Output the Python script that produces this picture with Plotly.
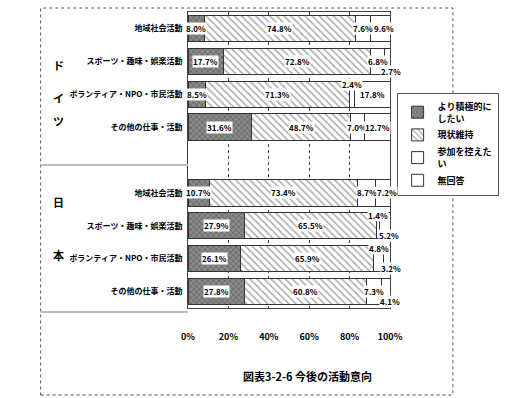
import plotly.graph_objects as go

# ---------------- data ----------------
groups = ["ドイツ", "日本"]
categories = ["地域社会活動", "スポーツ・趣味・娯楽活動", "ボランティア・NPO・市民活動", "その他の仕事・活動"]
series_names = ["より積極的に<br>したい", "現状維持", "参加を控えた<br>い", "無回答"]

de_more = [8.0, 17.7, 8.5, 31.6]
de_keep = [74.8, 72.8, 71.3, 48.7]
de_less = [7.6, 6.8, 2.4, 7.0]
de_na = [9.6, 2.7, 17.8, 12.7]

jp_more = [10.7, 27.9, 26.1, 27.8]
jp_keep = [73.4, 65.5, 65.9, 60.8]
jp_less = [8.7, 1.4, 4.8, 7.3]
jp_na = [7.2, 5.2, 3.2, 4.1]

x_ticks = [0, 20, 40, 60, 80, 100]
x_ticklabels = ["0%", "20%", "40%", "60%", "80%", "100%"]
title_text = "図表3-2-6 今後の活動意向"

# ---------------- layout helpers ----------------
W, H = 511, 398
L, R, T, B = 188, 432, 12, 308


def px(xp):
    return (xp - L) / (R - L)


def py(yp):
    return (B - yp) / (B - T)


FONT = "Noto Sans CJK JP"

n = len(categories)
ypos = list(range(n)) + [i + n + 1 for i in range(n)]
series = [de_more + jp_more, de_keep + jp_keep, de_less + jp_less, de_na + jp_na]

styles = [
    dict(color="#7a7a7a", pattern=dict(shape="x", fgcolor="#3a3a3a", bgcolor="#8a8a8a", size=4, solidity=0.35)),
    dict(color="white", pattern=dict(shape="\\", fgcolor="#555555", bgcolor="white", size=5, solidity=0.3)),
    dict(color="white"),
    dict(color="white"),
]

fig = go.Figure()
for s, name, st in zip(series, series_names, styles):
    fig.add_trace(go.Bar(
        x=s, y=ypos, orientation="h", name=name,
        marker=dict(line=dict(color="#333333", width=1), **st),
        width=0.8, hoverinfo="skip",
    ))

# value labels
annots = []
for j in range(len(ypos)):
    cum = 0
    for k, s in enumerate(series):
        v = s[j]
        c = cum + v / 2
        yshift = 0
        xshift = 0
        if v < 6:
            yshift = 10 if k == 2 else -10
            xshift = 4 if k == 3 else 0
        if k == 3 and v > 6 and v < 10:
            xshift = 4
        annots.append(dict(
            x=c, y=ypos[j], xref="x", yref="y", text=f"{v:.1f}%",
            showarrow=False, xshift=xshift, yshift=yshift,
            font=dict(family=FONT, size=8, color="black", weight="bold"),
            bgcolor="white", borderpad=0,
        ))
        cum += v

# group labels
for i, ch in enumerate(groups[0]):
    annots.append(dict(x=px(22), y=py(55 + i * 33), xref="paper", yref="paper", text=ch,
                       showarrow=False, font=dict(family=FONT, size=11, color="black", weight="bold")))
for i, ch in enumerate(groups[1]):
    annots.append(dict(x=px(22), y=py(212 + i * 53), xref="paper", yref="paper", text=ch,
                       showarrow=False, font=dict(family=FONT, size=11, color="black", weight="bold")))

annots.append(dict(x=px(252), y=py(386), xref="paper", yref="paper", text=title_text,
                   showarrow=False, font=dict(family=FONT, size=11, color="black", weight="bold")))

shapes = [
    dict(type="rect", xref="paper", yref="paper", x0=px(10), x1=px(508), y0=py(395), y1=py(8),
         line=dict(color="#555555", width=1, dash="dot")),
    dict(type="line", xref="paper", yref="paper", x0=px(10), x1=px(188), y0=py(165), y1=py(165),
         line=dict(color="#bbbbbb", width=2)),
    dict(type="line", xref="paper", yref="paper", x0=px(10), x1=px(188), y0=py(312), y1=py(312),
         line=dict(color="#bbbbbb", width=2)),
]

fig.update_layout(
    width=W, height=H, barmode="stack",
    margin=dict(l=L, r=W - R, t=T, b=H - B),
    paper_bgcolor="white", plot_bgcolor="white",
    font=dict(family=FONT, size=9, color="black"),
    showlegend=True,
    legend=dict(x=px(440), y=py(93), xanchor="left", yanchor="top",
                bordercolor="#555555", borderwidth=1, bgcolor="white",
                font=dict(family=FONT, size=9, color="black", weight="bold"),
                traceorder="normal", tracegroupgap=10, itemwidth=30),
    annotations=annots, shapes=shapes,
)
fig.update_xaxes(range=[0, 100], tickvals=x_ticks, ticktext=x_ticklabels,
                 showgrid=True, gridcolor="#444444", griddash="dot", gridwidth=1,
                 showline=True, linecolor="#444444", mirror=True, zeroline=False,
                 ticks="", ticklabelstandoff=20,
                 tickfont=dict(family=FONT, size=9, color="black", weight="bold"))
fig.update_yaxes(range=[2 * n + 0.5, -0.5], tickvals=ypos, ticktext=categories + categories,
                 showgrid=False, showline=True, linecolor="#444444", mirror=True, zeroline=False,
                 ticks="", ticklabelstandoff=3,
                 tickfont=dict(family=FONT, size=8, color="black", weight="bold"))

fig.write_html("out.html")
